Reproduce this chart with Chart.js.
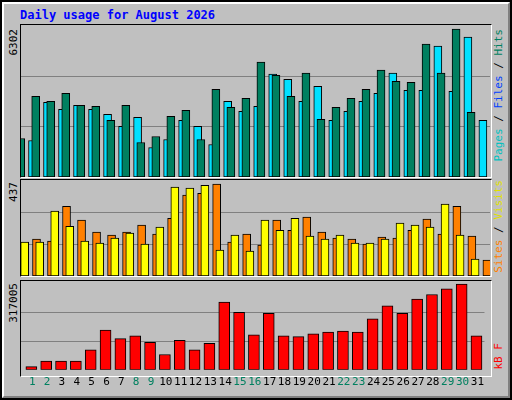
<!DOCTYPE html>
<html>
<head>
<meta charset="utf-8">
<script src="https://cdn.jsdelivr.net/npm/chart.js@4"></script>
<style>
  body { margin: 0; background: #fff; }
  #frame { position: relative; width: 508px; height: 396px; background: #c0c0c0;
    border: 2px solid #000; overflow: hidden;
    font-family: "DejaVu Sans Mono", monospace; }
  #frame::after { content: ""; position: absolute; left: 0; top: 0; right: 0; bottom: 0;
    border: 2px solid; border-color: #fff #808080 #808080 #fff; pointer-events: none; }
  .panel { position: absolute; left: 18px; width: 470px; }
  .box { position: absolute; left: 18px; width: 470px; border: 1px solid;
    border-color: #000 #fff #fff #000; pointer-events: none; }
  .vtxt { position: absolute; writing-mode: vertical-rl; transform: rotate(180deg);
    font-size: 11px; line-height: 12px; white-space: nowrap; }
  #title { position: absolute; left: 18px; top: 6px; color: #0000ff; font-weight: bold; font-size: 12px; }
</style>
</head>
<body>
<div id="frame">
  <div id="title">Daily usage for August 2026</div>
  <div class="vtxt" style="left:6px;top:27px;">6302</div>
  <div class="vtxt" style="left:6px;top:180px;">437</div>
  <div class="vtxt" style="left:6px;top:281px;">317005</div>
  <div class="vtxt" style="left:491px;top:27px;"><span style="color:#00c0c0">Pages</span> / <span style="color:#0040ff">Files</span> / <span style="color:#008060">Hits</span></div>
  <div class="vtxt" style="left:491px;top:178px;"><span style="color:#ff8000">Sites</span> / <span style="color:#e0e000">Visits</span></div>
  <div class="vtxt" style="left:491px;top:341px;color:#ff0000">kB F</div>
  <div class="panel" style="top:23px;height:152px;"><canvas id="c1"></canvas></div>
  <div class="panel" style="top:178px;height:96px;"><canvas id="c2"></canvas></div>
  <div class="panel" style="top:279px;height:114px;"><canvas id="c3"></canvas></div>
  <div class="box" style="top:22px;height:152px;"></div>
  <div class="box" style="top:177px;height:96px;"></div>
  <div class="box" style="top:278px;height:95px;"></div>
</div>
<script>
const DAYS = Array.from({ length: 31 }, (_, i) => i + 1);
const WEEKEND = [1, 2, 8, 9, 15, 16, 22, 23, 29, 30];

const HITS = [1640, 3436, 3222, 3564, 3051, 3008, 2410, 3051, 1469, 1725, 2581, 2837, 1597, 3736, 2966, 3351,
  4890, 4334, 3436, 4420, 2452, 2966, 3351, 3736, 4548, 4078, 4035, 5660, 4420, 6302, 2752];
const FILES = [1554, 3180, 2880, 3051, 2880, 2666, 2153, 2538, 1255, 1597, 2410, 2153, 1383, 3222, 2795, 3008,
  4377, 4163, 3222, 3864, 2410, 2795, 3222, 3564, 4420, 3693, 3693, 5575, 3650, 5960, 2410];
const PAGES = [228, 998, 1126, 955, 1554, 1768, 1084, 1554, 784, 827, 1511, 613, 955, 2238, 1469, 1126,
  2623, 1597, 1682, 1383, 955, 1255, 1725, 2067, 2196, 1469, 2538, 2367, 2238, 2880, 1126];
const SITES = [161, 161, 309, 237, 166, 157, 180, 204, 152, 233, 423, 418, 432, 123, 195, 119,
  266, 218, 275, 190, 176, 195, 157, 157, 176, 252, 242, 233, 342, 195, 81];
const VISITS = [176, 166, 332, 266, 209, 195, 209, 242, 199, 275, 385, 394, 437, 161, 199, 147,
  266, 218, 280, 209, 180, 176, 152, 185, 180, 218, 271, 199, 332, 190, 76];
const KBYTES = [11570, 32396, 32396, 32396, 74048, 146939, 115700, 126113, 101816, 56693, 108758, 74048, 98345,
  251069, 212888, 129584, 209417, 126113, 122642, 133055, 139997, 143468, 139997, 188591, 237185, 209417,
  261482, 278837, 299663, 317005, 126113];

Chart.defaults.devicePixelRatio = 1;
Chart.defaults.animation = false;
Chart.defaults.responsive = true;
Chart.defaults.maintainAspectRatio = false;

const X_MIN = 0.294, X_MAX = 31.6;

function hiddenX() {
  return { type: "linear", display: false, offset: false, min: X_MIN, max: X_MAX, grid: { offset: false } };
}

function yAxis(max, lines) {
  return {
    min: 0, max,
    afterBuildTicks: (s) => { s.ticks = lines.map((v) => ({ value: v })); },
    ticks: { display: false },
    grid: { color: "#808080", lineWidth: 1, drawTicks: false },
    border: { display: false },
  };
}

function barSet(values, shift, color, axis, thickness) {
  return {
    data: values.map((v, i) => ({ x: DAYS[i] + shift, y: v })),
    backgroundColor: color,
    borderColor: "#000",
    borderWidth: 1,
    borderSkipped: false,
    xAxisID: axis,
    barThickness: thickness,
  };
}

const baseOpts = {
  layout: { padding: 0 },
  plugins: { legend: { display: false }, tooltip: { enabled: false } },
};

new Chart(document.getElementById("c1"), {
  type: "bar",
  data: {
    datasets: [
      barSet(HITS, -0.127, "#008060", "x", 8),
      barSet(FILES, 0.127, "#00e0ff", "x2", 8),
      { ...barSet(PAGES, -0.07, "#0000ff", "x3", 2), borderWidth: 0 },
    ],
  },
  options: {
    ...baseOpts,
    scales: { x: hiddenX(), x2: hiddenX(), x3: hiddenX(), y: yAxis(6472, [2150, 4300]) },
  },
});

new Chart(document.getElementById("c2"), {
  type: "bar",
  data: {
    datasets: [
      barSet(SITES, -0.127, "#ffff00", "x", 8),
      barSet(VISITS, 0.127, "#ff8000", "x2", 8),
    ],
  },
  options: {
    ...baseOpts,
    scales: { x: hiddenX(), x2: hiddenX(), y: yAxis(457, [150, 300]) },
  },
});

new Chart(document.getElementById("c3"), {
  type: "bar",
  data: { datasets: [barSet(KBYTES, 0.06, "#ff0000", "x", 11)] },
  options: {
    ...baseOpts,
    scales: {
      x: {
        type: "linear", min: X_MIN, max: X_MAX, offset: false,
        afterBuildTicks: (s) => { s.ticks = DAYS.map((d) => ({ value: d + 0.12 })); },
        ticks: {
          padding: 6, autoSkip: false, maxRotation: 0,
          font: { family: "DejaVu Sans Mono", size: 11 },
          color: (c) => (WEEKEND.includes(c.index + 1) ? "#008060" : "#000"),
          callback: (v, i) => String(DAYS[i]),
        },
        grid: { display: false, drawTicks: false, offset: false },
        border: { display: false },
      },
      y: yAxis(328800, [105000, 214000]),
    },
  },
});
</script>
</body>
</html>
